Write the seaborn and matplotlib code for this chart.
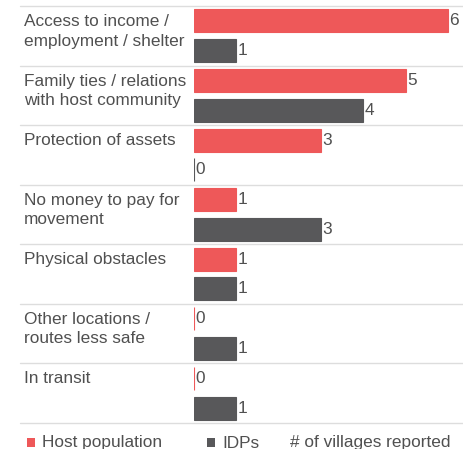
import pandas as pd
import numpy as np
import matplotlib
matplotlib.use("Agg")
import matplotlib.pyplot as plt
from matplotlib.patches import Rectangle
import seaborn as sns

categories = [
    "Access to income /\nemployment / shelter",
    "Family ties / relations\nwith host community",
    "Protection of assets",
    "No money to pay for\nmovement",
    "Physical obstacles",
    "Other locations /\nroutes less safe",
    "In transit",
]
host_values = [6, 5, 3, 1, 1, 0, 0]
idp_values = [1, 4, 0, 3, 1, 1, 1]
groups = ["Host population", "IDPs"]
xlabel_text = "# of villages reported"

RED = "#EE5859"
DARK = "#58585A"
TEXT = "#505050"
GRID = "#DDDDDD"

df = pd.DataFrame({
    "reason": categories * 2,
    "group": [groups[0]] * len(categories) + [groups[1]] * len(categories),
    "villages": host_values + idp_values,
})

sns.set_style("white")
plt.rcParams["font.family"] = ["Liberation Sans", "DejaVu Sans"]

W, H = 463, 449
fig = plt.figure(figsize=(W / 100, H / 100), dpi=100)
ax_left, ax_bottom, ax_top = 194, 423, 6
ax = fig.add_axes([ax_left / W, 1 - ax_bottom / H, (W - ax_left) / W, (ax_bottom - ax_top) / H])

sns.barplot(data=df, y="reason", x="villages", hue="group", order=categories,
            hue_order=groups, palette=[RED, DARK], saturation=1, orient="h",
            width=1.0, gap=0.23, legend=False, ax=ax)

for p in ax.patches:
    p.set_edgecolor(p.get_facecolor())
    p.set_linewidth(0.8)

for cont in ax.containers:
    ax.bar_label(cont, padding=1, fontsize=12.4, color=TEXT)

ax.set_xlim(0, 6.35)
ax.set_ylim(len(categories) - 0.5, -0.5)
ax.set_xticks([])
ax.set_yticks([])
ax.set_xlabel("")
ax.set_ylabel("")
for s in ax.spines.values():
    s.set_visible(False)

x_start = -(ax_left - 20) / (W - ax_left)
for i in range(len(categories) + 1):
    ax.axhline(i - 0.5, xmin=x_start, xmax=1, color=GRID, lw=1, clip_on=False, zorder=0)

lab_x = -(ax_left - 24) / (W - ax_left)
for i, cat in enumerate(categories):
    ax.text(lab_x, i - 0.5 + 0.135, cat, transform=ax.get_yaxis_transform(),
            ha="left", va="top", fontsize=12.4, color=TEXT, linespacing=1.38)

# legend row at the bottom
base_y = 1 - 447.5 / H
for x0, col, lab in [(27, RED, groups[0]), (207, DARK, groups[1])]:
    fig.add_artist(Rectangle((x0 / W, 1 - 447 / H), 8 / W, 9 / H,
                             transform=fig.transFigure, color=col, lw=0))
    fig.text((x0 + 15) / W, base_y, lab, fontsize=12.4, color=TEXT, va="baseline")
fig.text(290 / W, base_y, xlabel_text, fontsize=12.4, color=TEXT, va="baseline")

fig.savefig("out.png", dpi=100)
